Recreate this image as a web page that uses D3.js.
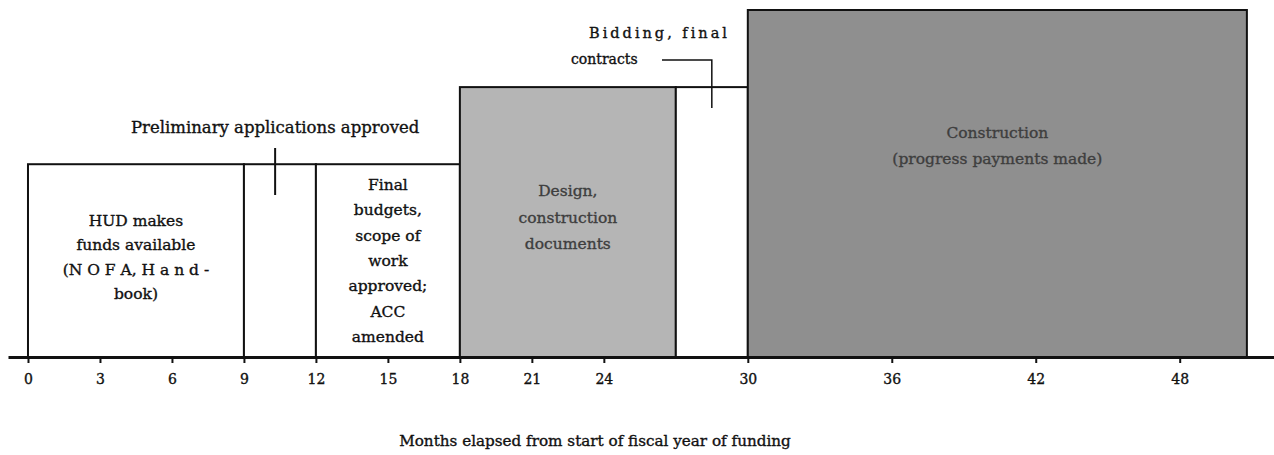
<!DOCTYPE html>
<html>
<head>
<meta charset="utf-8">
<script src="https://cdn.jsdelivr.net/npm/d3@7"></script>
<style>
  body { margin: 0; background: #fff; }
  svg text { font-family: "DejaVu Serif", serif; fill: #111; stroke-width: 0.35px; }
</style>
</head>
<body>
<svg id="chart"></svg>
<script>
var screen = {width: 1274, height: 455};

// phases: start month, end month, height level
var phaseStart = [0, 9, 12, 18, 27, 30];
var phaseEnd   = [9, 12, 18, 27, 30, 50.8];
var phaseLevel = [1, 1, 1, 1.4, 1.4, 1.8];
var phaseFill  = ["#ffffff", "#ffffff", "#ffffff", "#b5b5b5", "#ffffff", "#8f8f8f"];

var phaseText = [
    ["HUD makes", "funds available", "(N O F A,  H a n d -", "book)"],
    [],
    ["Final", "budgets,", "scope of", "work", "approved;", "ACC", "amended"],
    ["Design,", "construction", "documents"],
    [],
    ["Construction", "(progress payments made)"]
];

var tickMonths = [0, 3, 6, 9, 12, 15, 18, 21, 24, 30, 36, 42, 48];

var prelimMonth = 10.3;
var biddingMonth = 28.5;

var svg = d3.select("#chart")
    .attr("width", screen.width)
    .attr("height", screen.height)

var xScale = d3.scaleLinear()
    .domain([-0.833, 51.93])
    .range([8, 1274])

var yScale = d3.scaleLinear()
    .domain([0, 1.8])
    .range([357, 10])

var phases = phaseStart.map(function(s, i) {
    return {start: s, end: phaseEnd[i], level: phaseLevel[i], fill: phaseFill[i], text: phaseText[i]}
})

// boxes
svg.append("g")
    .selectAll("rect")
    .data(phases)
    .enter()
    .append("rect")
    .attr("x", function(d) { return xScale(d.start) })
    .attr("y", function(d) { return yScale(d.level) })
    .attr("width", function(d) { return xScale(d.end) - xScale(d.start) })
    .attr("height", function(d) { return yScale(0) - yScale(d.level) })
    .attr("fill", function(d) { return d.fill })
    .attr("stroke", "#111")
    .attr("stroke-width", 2)

// box labels
var lineGap = [24.3, 0, 25.3, 26.5, 0, 26];
var firstLine = [0.68, 0, 0.866, 0.835, 0, 1.136];
phases.forEach(function(d, i) {
    var cx = (xScale(d.start) + xScale(d.end)) / 2
    var col = d.fill == "#ffffff" ? "#111" : "#3e3e3e"
    var t = svg.append("text")
        .attr("text-anchor", "middle")
        .style("font-size", "15.5px")
        .style("fill", col)
        .style("stroke", col)
    d.text.forEach(function(line, j) {
        t.append("tspan")
            .attr("x", cx)
            .attr("y", yScale(firstLine[i]) + j * lineGap[i])
            .text(line)
    })
})

// axis
var xAxis = d3.axisBottom(xScale)
    .tickValues(tickMonths)
    .tickSizeInner(6)
    .tickSizeOuter(0)
    .tickPadding(11)
    .tickFormat(d3.format("d"))

var ax = svg.append("g")
    .attr("transform", "translate(0," + yScale(0) + ")")
    .call(xAxis)

ax.select(".domain").attr("stroke", "#111").attr("stroke-width", 3)
ax.selectAll(".tick line").attr("stroke", "#111").attr("stroke-width", 2)
ax.selectAll(".tick text")
    .style("font-family", "DejaVu Serif, serif")
    .style("font-size", "14px")
    .style("stroke", "#111")
    .attr("fill", "#111")

svg.append("text")
    .attr("x", 595)
    .attr("y", 446)
    .attr("text-anchor", "middle")
    .style("font-size", "15.2px")
    .style("stroke", "#111")
    .text("Months elapsed from start of fiscal year of funding")

// preliminary applications callout
svg.append("text")
    .attr("x", xScale(prelimMonth))
    .attr("y", 133)
    .attr("text-anchor", "middle")
    .style("font-size", "16.5px")
    .style("stroke", "#111")
    .text("Preliminary applications approved")

svg.append("line")
    .attr("x1", xScale(prelimMonth))
    .attr("x2", xScale(prelimMonth))
    .attr("y1", 148)
    .attr("y2", 195)
    .attr("stroke", "#111")
    .attr("stroke-width", 2)

// bidding callout
svg.append("text")
    .attr("x", 730)
    .attr("y", 38)
    .attr("text-anchor", "end")
    .style("font-size", "14.5px")
    .style("letter-spacing", "3px")
    .style("stroke", "#111")
    .text("Bidding, final")

svg.append("text")
    .attr("x", 571)
    .attr("y", 64)
    .style("font-size", "14px")
    .style("stroke", "#111")
    .text("contracts")

svg.append("path")
    .attr("d", "M" + 662 + "," + 60 + "H" + xScale(biddingMonth) + "V" + 108)
    .attr("fill", "none")
    .attr("stroke", "#111")
    .attr("stroke-width", 1.5)
</script>
</body>
</html>
